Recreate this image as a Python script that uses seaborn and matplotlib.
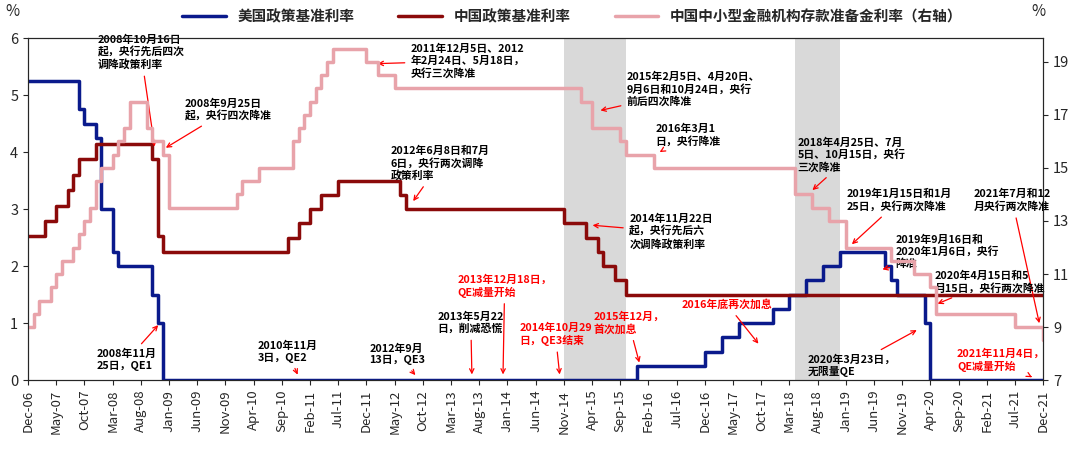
import pandas as pd
import matplotlib.pyplot as plt
import seaborn as sns

sns.set_style("ticks")
plt.rcParams['font.family'] = ['Noto Sans CJK SC', 'DejaVu Sans']
plt.rcParams['axes.unicode_minus'] = False

START = pd.Period('2006-12', 'M')

# 美国政策基准利率 (change dates, values)
us_dates = ['2006-12', '2007-09', '2007-10', '2007-12', '2008-01', '2008-03', '2008-04',
            '2008-10', '2008-11', '2008-12', '2015-12', '2016-12', '2017-03', '2017-06',
            '2017-12', '2018-03', '2018-06', '2018-09', '2018-12', '2019-08', '2019-09',
            '2019-10', '2020-03', '2020-04', '2021-12']
us_vals = [5.25, 4.75, 4.5, 4.25, 3.0, 2.25, 2.0, 1.5, 1.0, 0.0, 0.25, 0.5, 0.75, 1.0,
           1.25, 1.5, 1.75, 2.0, 2.25, 2.0, 1.75, 1.5, 1.0, 0.0, 0.0]

# 中国政策基准利率
cn_dates = ['2006-12', '2007-03', '2007-05', '2007-07', '2007-08', '2007-09', '2007-12',
            '2008-10', '2008-11', '2008-12', '2010-10', '2010-12', '2011-02', '2011-04',
            '2011-07', '2012-06', '2012-07', '2014-11', '2015-03', '2015-05', '2015-06',
            '2015-08', '2015-10', '2021-12']
cn_vals = [2.52, 2.79, 3.06, 3.33, 3.60, 3.87, 4.14, 3.87, 2.52, 2.25, 2.50, 2.75, 3.00,
           3.25, 3.50, 3.25, 3.00, 2.75, 2.50, 2.25, 2.00, 1.75, 1.50, 1.50]

# 中国中小型金融机构存款准备金利率（右轴）
rrr_dates = ['2006-12', '2007-01', '2007-02', '2007-04', '2007-05', '2007-06', '2007-08',
             '2007-09', '2007-10', '2007-11', '2007-12', '2008-01', '2008-03', '2008-04',
             '2008-05', '2008-06', '2008-09', '2008-10', '2008-12', '2009-01', '2010-01',
             '2010-02', '2010-05', '2010-11', '2010-12', '2011-01', '2011-02', '2011-03',
             '2011-04', '2011-05', '2011-06', '2011-12', '2012-02', '2012-05', '2015-02',
             '2015-04', '2015-09', '2015-10', '2016-03', '2018-04', '2018-07', '2018-10',
             '2019-01', '2019-09', '2020-01', '2020-04', '2020-05', '2021-07', '2021-12']
rrr_vals = [9.0, 9.5, 10.0, 10.5, 11.0, 11.5, 12.0, 12.5, 13.0, 13.5, 14.5, 15.0, 15.5, 16.0,
            16.5, 17.5, 16.5, 16.0, 15.5, 13.5, 14.0, 14.5, 15.0, 16.0, 16.5, 17.0, 17.5,
            18.0, 18.5, 19.0, 19.5, 19.0, 18.5, 18.0, 17.5, 16.5, 16.0, 15.5, 15.0, 14.0,
            13.5, 13.0, 12.0, 11.5, 11.0, 10.5, 9.5, 9.0, 8.5]

shade_spans = [('2014-11', '2015-10'), ('2018-04', '2018-12')]

tick_labels = [(START + i).strftime('%b-%y') for i in range(0, 181, 5)]


def month_idx(s):
    return (pd.Period(s, 'M') - START).n


def step_frame(dates, vals):
    return pd.DataFrame({'m': [month_idx(d) for d in dates], 'v': vals})


# annotations: text, target (month, y), text pos (month, y), colour
notes = [
    ('2008年10月16日\n起，央行先后四次\n调降政策利率', (22.5, 4.05), (20, 5.75), 'black'),
    ('2008年9月25日\n起，央行四次降准', (24, 4.05), (35.5, 4.74), 'black'),
    ('2011年12月5日、2012\n年2月24日、5月18日，\n央行三次降准', (61.5, 5.55), (78, 5.6), 'black'),
    ('2015年2月5日、4月20日、\n9月6日和10月24日，央行\n前后四次降准', (101, 4.72), (118, 5.1), 'black'),
    ('2016年3月1\n日，央行降准', (112, 4.0), (117, 4.3), 'black'),
    ('2012年6月8日和7月\n6日，央行两次调降\n政策利率', (68, 3.1), (73, 3.8), 'black'),
    ('2018年4月25日、7月\n5日、10月15日，央行\n三次降准', (138.7, 3.3), (146, 3.95), 'black'),
    ('2014年11月22日\n起，央行先后六\n次调降政策利率', (99.6, 2.72), (114, 2.6), 'black'),
    ('2019年1月15日和1月\n25日，央行两次降准', (145.7, 2.35), (154.5, 3.15), 'black'),
    ('2019年9月16日和\n2020年1月6日，央行\n降准', (151, 1.93), (163, 2.25), 'black'),
    ('2021年7月和12\n月央行两次降准', (179.4, 0.95), (174.5, 3.15), 'black'),
    ('2020年4月15日和5\n月15日，央行两次降准', (160.8, 1.32), (170.5, 1.72), 'black'),
    ('2008年11月\n25日，QE1', (23.4, 1.0), (17.5, 0.35), 'black'),
    ('2010年11月\n3日，QE2', (48, 0.05), (46, 0.5), 'black'),
    ('2012年9月\n13日，QE3', (69, 0.05), (65.5, 0.45), 'black'),
    ('2013年5月22\n日，削减恐慌', (78.7, 0.05), (78.5, 1.0), 'black'),
    ('2013年12月18日，\nQE减量开始', (84.2, 0.05), (84.5, 1.65), 'red'),
    ('2014年10月29\n日，QE3结束', (94.3, 0.05), (93.5, 0.8), 'red'),
    ('2015年12月，\n首次加息', (108.5, 0.26), (106.5, 1.0), 'red'),
    ('2016年底再次加息', (129.8, 0.6), (124, 1.32), 'red'),
    ('2020年3月23日，\n无限量QE', (158, 0.9), (146, 0.25), 'black'),
    ('2021年11月4日，\nQE减量开始', (178, 0.05), (172.5, 0.35), 'red'),
]

fig = plt.figure(figsize=(10.8, 4.53), dpi=100)
ax = fig.add_axes([0.026, 0.161, 0.94, 0.755])
ax2 = ax.twinx()

for a, b in shade_spans:
    ax.axvspan(month_idx(a), month_idx(b), color='#d9d9d9', lw=0, zorder=0)

us = step_frame(us_dates, us_vals)
cn = step_frame(cn_dates, cn_vals)
rr = step_frame(rrr_dates, rrr_vals)
sns.lineplot(data=us, x='m', y='v', ax=ax, drawstyle='steps-post', color='#0a1a8c', lw=2.5,
             label='美国政策基准利率', legend=False)
sns.lineplot(data=cn, x='m', y='v', ax=ax, drawstyle='steps-post', color='#8b0a0a', lw=2.5,
             label='中国政策基准利率', legend=False)
sns.lineplot(data=rr, x='m', y='v', ax=ax2, drawstyle='steps-post', color='#e8a3aa', lw=2.5,
             label='中国中小型金融机构存款准备金利率（右轴）', legend=False)

ax.set_xlim(0, 180)
ax.set_ylim(0, 6)
ax2.set_ylim(7, 19.9)
ax.set_xticks(range(0, 181, 5))
ax.set_xticklabels(tick_labels, rotation=90, fontsize=9.5)
ax.set_yticks(range(0, 7))
ax.tick_params(axis='y', labelsize=10.5)
ax2.set_yticks(range(7, 20, 2))
ax2.tick_params(axis='y', labelsize=10.5)
for a_ in (ax, ax2):
    a_.set_xlabel('')
    a_.set_ylabel('')
fig.text(0.005, 0.965, '%', fontsize=11)
fig.text(0.955, 0.965, '%', fontsize=11)

h1, l1 = ax.get_legend_handles_labels()
h2, l2 = ax2.get_legend_handles_labels()
fig.legend(h1 + h2, l1 + l2, loc='upper center', bbox_to_anchor=(0.53, 1.01), ncol=3,
           frameon=False, handlelength=3, columnspacing=3,
           prop={'weight': 'bold', 'family': ['Noto Sans CJK SC', 'DejaVu Sans'], 'size': 10.5})

for txt, xy, xytext, col in notes:
    ax.annotate(txt, xy=xy, xytext=xytext, ha='center', va='center', multialignment='left',
                fontsize=7.8, fontweight='bold', color=col, annotation_clip=False,
                arrowprops=dict(arrowstyle='->', color='red', lw=0.9))

fig.savefig('out.png', dpi=100)
